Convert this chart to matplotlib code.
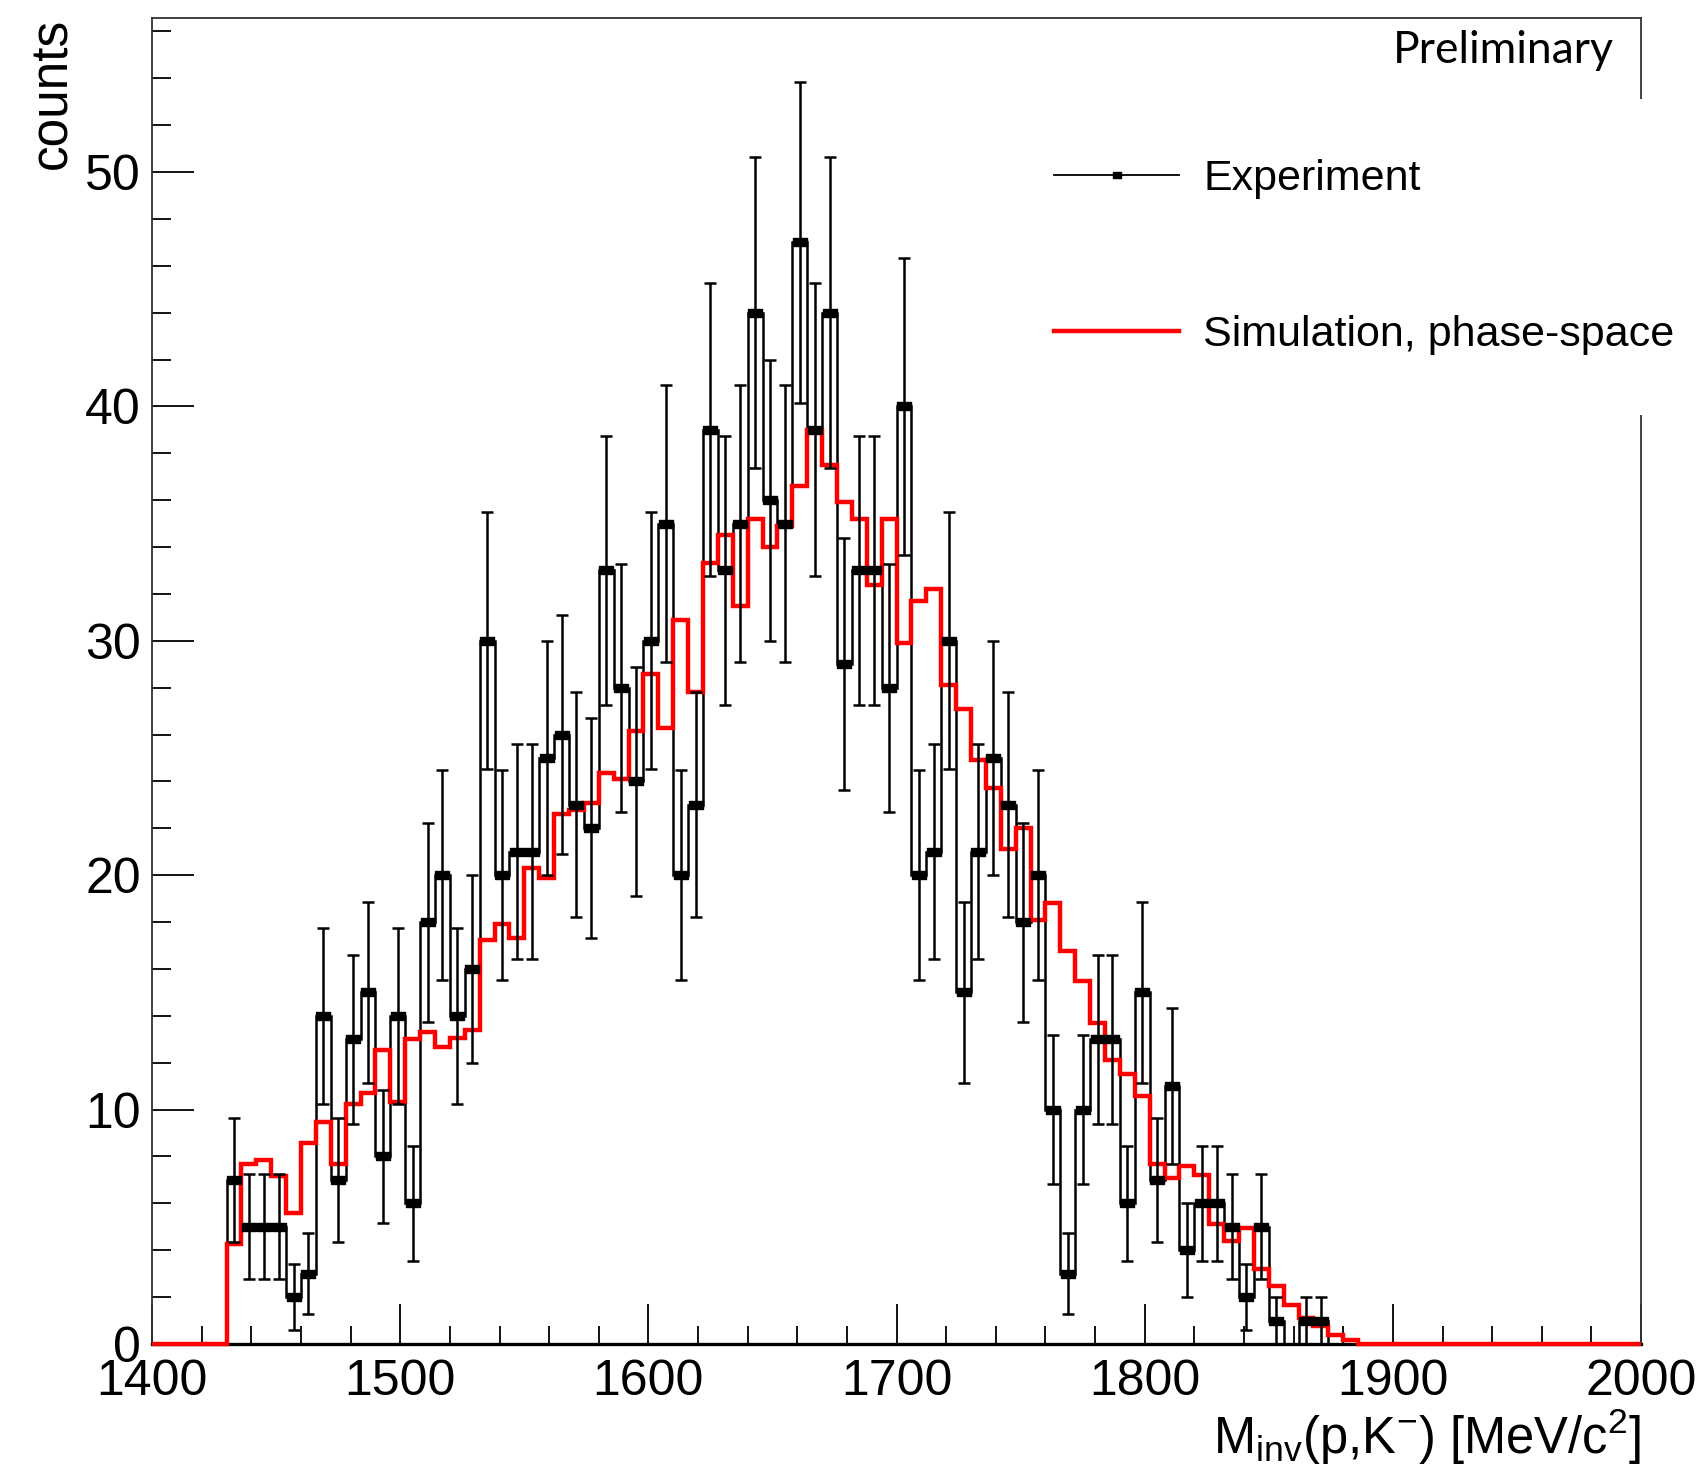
'''
Invariant mass p,K- : experiment vs phase-space simulation (ROOT-like look)
'''

#LIBRAIRIES
import numpy as np
import matplotlib.pyplot as plt
from matplotlib.lines import Line2D
from matplotlib.ticker import MultipleLocator

plt.rcParams['font.family'] = 'Liberation Sans'
plt.rcParams['mathtext.fontset'] = 'custom'
plt.rcParams['mathtext.rm'] = 'Liberation Sans'
plt.rcParams['mathtext.it'] = 'Liberation Sans:italic'

# binning (MeV/c2)
x_min, x_max, bin_w = 1400, 2000, 6
first_edge = 1430   # lower edge of first filled bin

# experiment counts, one per 6 MeV bin starting at 1430
exp_counts = [7, 5, 5, 5, 2, 3, 14, 7, 13, 15, 8, 14,
              6, 18, 20, 14, 16, 30, 20, 21, 21, 25, 26, 23,
              22, 33, 28, 24, 30, 35, 20, 23, 39, 33, 35, 44,
              36, 35, 47, 39, 44, 29, 33, 33, 28, 40, 20, 21,
              30, 15, 21, 25, 23, 18, 20, 10, 3, 10, 13, 13,
              6, 15, 7, 11, 4, 6, 6, 5, 2, 5, 1, 0, 1, 1]

# phase-space simulation (scaled), same bins starting at 1430
sim_counts = [4.27, 7.7, 7.85, 7.17, 5.59, 8.57,
              9.48, 7.67, 10.24, 10.7, 12.54, 10.33,
              13.0, 13.3, 12.67, 13.05, 13.4, 17.24,
              17.9, 17.3, 20.3, 19.9, 22.6, 22.8,
              23.07, 24.36, 24.1, 26.15, 28.6, 26.3,
              30.9, 27.8, 33.3, 34.5, 31.5, 35.2,
              34.0, 34.9, 36.6, 39.0, 37.5, 35.9,
              35.2, 32.4, 35.2, 29.9, 31.7, 32.2,
              28.1, 27.1, 24.9, 23.7, 21.1, 22.0,
              18.1, 18.8, 16.75, 15.5, 13.7, 12.1,
              11.5, 10.6, 7.7, 7.1, 7.6, 7.2,
              5.1, 4.4, 4.95, 3.2, 2.46, 1.68,
              1.1, 0.75, 0.4, 0.15]

x_major = [1400, 1500, 1600, 1700, 1800, 1900, 2000]
y_major = [0, 10, 20, 30, 40, 50]

# full histograms over the whole range
edges = np.arange(x_min, x_max + bin_w, bin_w)
centers = 0.5 * (edges[:-1] + edges[1:])
i0 = (first_edge - x_min) // bin_w
exp_full = np.zeros(len(centers))
exp_full[i0:i0 + len(exp_counts)] = exp_counts
sim_full = np.zeros(len(centers))
sim_full[i0:i0 + len(sim_counts)] = sim_counts

#  PLOTTING
fig = plt.figure(figsize=(17.05, 14.74), dpi=100)
ax = fig.add_axes([0.0892, 0.0882, 0.8733, 0.8996])

# black outline of data, red simulation on top
ax.stairs(exp_full, edges, color='black', lw=1.8, clip_on=False, zorder=2)
ax.stairs(sim_full, edges, color='red', lw=3.2, clip_on=False, zorder=3)

# error bars + markers (non empty bins only)
m = exp_full > 0
ax.errorbar(centers[m], exp_full[m], yerr=np.sqrt(exp_full[m]), fmt='none',
            ecolor='black', elinewidth=1.8, capsize=4, capthick=1.8, zorder=4)
rect = [(-1.5, -1), (1.5, -1), (1.5, 1), (-1.5, 1), (-1.5, -1)]
ax.plot(centers[m], exp_full[m], ls='none', marker=rect, ms=9.5,
        color='black', zorder=5)

# axes
ax.set_xlim(x_min, x_max)
ax.set_ylim(0, 56.57)
ax.set_xticks(x_major)
ax.set_yticks(y_major)
ax.xaxis.set_minor_locator(MultipleLocator(20))
ax.yaxis.set_minor_locator(MultipleLocator(2))
ax.tick_params(which='both', direction='in', top=False, right=False,
               width=1.3, color='black')
ax.tick_params(axis='x', which='major', length=29, labelsize=36, pad=11)
ax.tick_params(axis='x', which='minor', length=13)
ax.tick_params(axis='y', which='major', length=30, labelsize=36, pad=8)
ax.tick_params(axis='y', which='minor', length=13.5)

for s in ['top', 'left', 'right']:
    ax.spines[s].set_linewidth(1.3)
    ax.spines[s].set_color('#333333')
ax.spines['bottom'].set_linewidth(2.4)

# labels
ax.set_ylabel('counts', fontsize=37, loc='top')
ax.yaxis.set_label_coords(-0.05, 1.0)
ax.set_xlabel(r'M$_{\mathrm{inv}}$(p,K$^{-}$) [MeV/c$^{\mathrm{2}}$]',
              fontsize=36.5, loc='right')
ax.xaxis.set_label_coords(1.0, -0.047)

# legend (white box, hides part of right frame)
h_exp = Line2D([], [], color='black', lw=1.3, marker=rect, ms=6)
h_sim = Line2D([], [], color='red', lw=3.2)
leg = ax.legend([h_exp, h_sim], ['Experiment', 'Simulation, phase-space'],
                loc='center left', bbox_to_anchor=(0.583, 0.8256),
                bbox_transform=fig.transFigure, fontsize=31,
                frameon=True, fancybox=False, framealpha=1,
                borderpad=1.4, labelspacing=2.68, handlelength=2.9,
                handletextpad=0.56, borderaxespad=0)
leg.get_frame().set_facecolor('white')
leg.get_frame().set_edgecolor('none')

fig.text(0.9466, 0.9655, 'Preliminary', ha='right', va='center',
         fontsize=32, family='Lato')

plt.savefig('out.png', dpi=100)
